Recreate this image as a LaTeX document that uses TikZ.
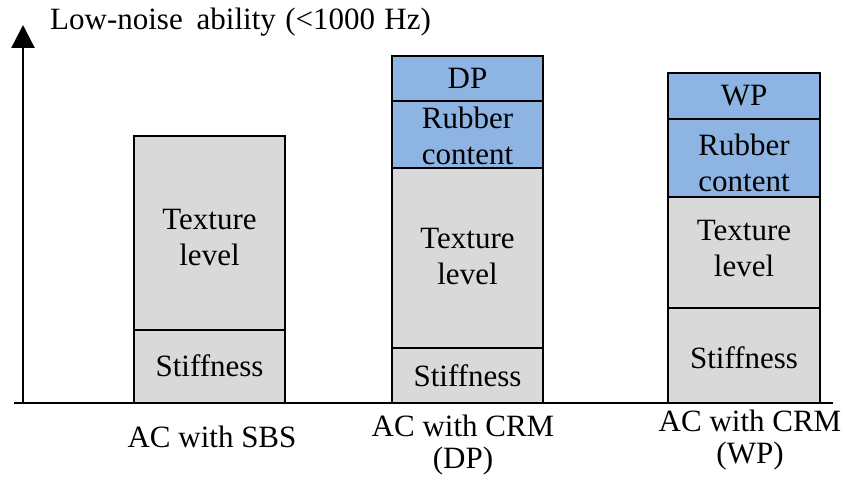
\documentclass[tikz,border=0pt]{standalone}
\usepackage{fontspec}
\setmainfont{Liberation Serif}[Ligatures=TeX]
\newfontfamily\barfont{Liberation Serif}
\usetikzlibrary{arrows.meta}
\definecolor{segblue}{RGB}{141,180,226}
\definecolor{seggray}{RGB}{217,217,217}
\tikzset{
  seg/.style={draw=black, line width=2.4pt, inner sep=0pt},
  gseg/.style={seg, fill=seggray},
  bseg/.style={seg, fill=segblue},
  lbl/.style={align=center, inner sep=0pt, font=\barfont\fontsize{31}{36}\selectfont},
  axis/.style={line width=2.4pt, draw=black},
  cat/.style={align=center, inner sep=0pt, font=\barfont\fontsize{31}{32}\selectfont}
}
\begin{document}
\begin{tikzpicture}[x=1pt, y=-1pt]
\useasboundingbox (0,0) rectangle (844,484);

% axes
\coordinate (origin) at (23,403);
\coordinate (ytip) at (23,25);
\coordinate (xleft) at (14,403);
\coordinate (xright) at (833,403);
\draw[axis] (xleft) -- (xright);
\draw[axis, -{Triangle[width=23pt,length=23pt]}] (origin) -- (ytip);
\node[anchor=west, inner sep=0pt, font=\barfont\fontsize{31}{32}\selectfont] (title) at (50,22) {Low-noise\hspace{0.45em}ability\hspace{0.3em}(<1000\hspace{0.3em}Hz)};

% bar 1: AC with SBS
\node[gseg, minimum width=151pt, minimum height=194pt] (b1tex) at (209.5,233) {};
\node[gseg, minimum width=151pt, minimum height=73pt] (b1stf) at (209.5,366.5) {};
\node[lbl] (t1tex) at ([yshift=-5pt]b1tex.center) {Texture\\level};
\node[lbl] (t1stf) at ([yshift=1pt]b1stf.center) {Stiffness};

% bar 2: AC with CRM (DP)
\node[bseg, minimum width=151pt, minimum height=45pt] (b2dp) at (467.5,78.5) {};
\node[bseg, minimum width=151pt, minimum height=67pt] (b2rub) at (467.5,134.5) {};
\node[gseg, minimum width=151pt, minimum height=180pt] (b2tex) at (467.5,258) {};
\node[gseg, minimum width=151pt, minimum height=55pt] (b2stf) at (467.5,375.5) {};
\node[lbl] (t2dp) at (b2dp.center) {DP};
\node[lbl] (t2rub) at ([yshift=-1.5pt]b2rub.center) {Rubber\\content};
\node[lbl] (t2tex) at ([yshift=1.5pt]b2tex.center) {Texture\\level};
\node[lbl] (t2stf) at (b2stf.center) {Stiffness};

% bar 3: AC with CRM (WP)
\node[bseg, minimum width=152pt, minimum height=46pt] (b3wp) at (744,96) {};
\node[bseg, minimum width=152pt, minimum height=78pt] (b3rub) at (744,158) {};
\node[gseg, minimum width=152pt, minimum height=111pt] (b3tex) at (744,252.5) {};
\node[gseg, minimum width=152pt, minimum height=95pt] (b3stf) at (744,355.5) {};
\node[lbl] (t3wp) at (b3wp.center) {WP};
\node[lbl] (t3rub) at ([yshift=-5pt]b3rub.center) {Rubber\\content};
\node[lbl] (t3tex) at ([yshift=4pt]b3tex.center) {Texture\\level};
\node[lbl] (t3stf) at ([yshift=-2pt]b3stf.center) {Stiffness};

% category labels
\node[cat] (c1) at (212,437) {AC with SBS};
\node[cat] (c2) at (463,445) {AC with CRM\\(DP)};
\node[cat] (c3) at (750,440) {AC with CRM\\(WP)};
\end{tikzpicture}
\end{document}
